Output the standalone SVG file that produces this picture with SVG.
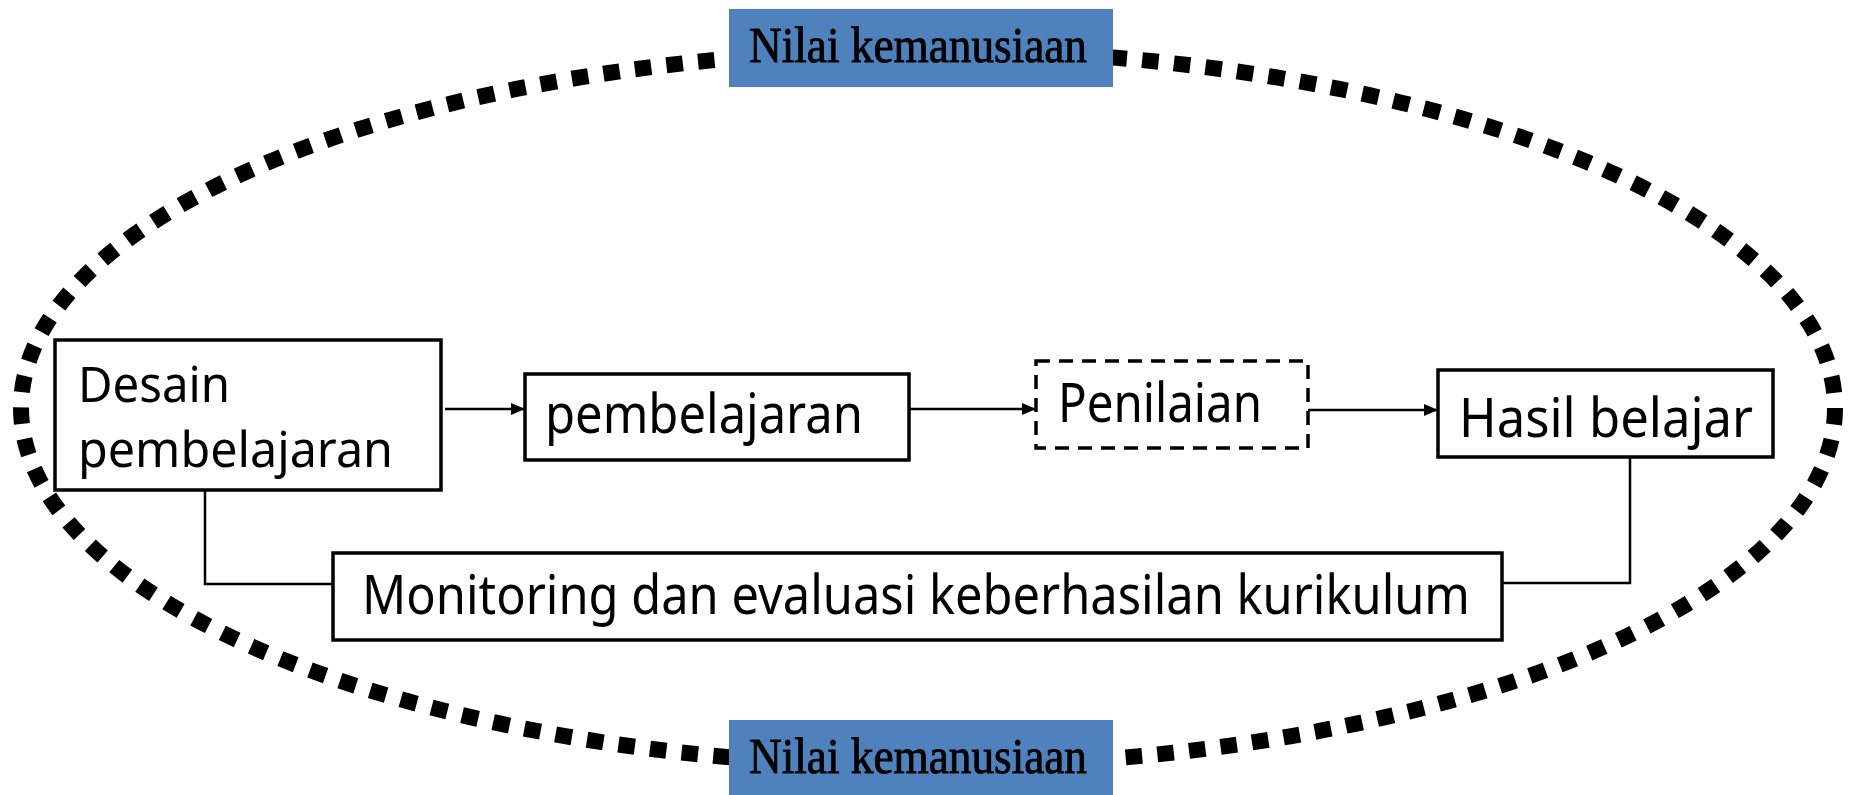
<svg xmlns="http://www.w3.org/2000/svg" width="1850" height="795" viewBox="0 0 1850 795">
<style>
.box{fill:#fff;stroke:#000;stroke-width:3.5}
.dbox{fill:#fff;stroke:#000;stroke-width:3.5;stroke-dasharray:14 9}
.t{font-family:"Noto Sans","DejaVu Sans",sans-serif;font-size:54px;fill:#000}
.t2{font-family:"Noto Sans","DejaVu Sans",sans-serif;font-size:50px;fill:#000}
.lab{fill:#4F81BD}
.lt{font-family:"Liberation Serif","Times New Roman",serif;font-size:51px;fill:#000;stroke:#000;stroke-width:0.9}
.c{fill:none;stroke:#000;stroke-width:2.5}
</style>
<defs>
<marker id="ah" viewBox="0 0 14 12" refX="14" refY="6" markerWidth="14" markerHeight="12" markerUnits="userSpaceOnUse" orient="auto">
<path d="M0,0 L14,6 L0,12 Z" fill="#000"/>
</marker>
</defs>
<g id="ellipse">
<ellipse cx="928" cy="408" rx="907" ry="358" fill="none" stroke="#000" stroke-width="16" pathLength="131" stroke-dasharray="0.52 0.48"/>
</g>
<g id="connectors">
<line class="c" x1="445" y1="409" x2="525" y2="409" marker-end="url(#ah)"/>
<line class="c" x1="908" y1="409" x2="1036" y2="409" marker-end="url(#ah)"/>
<line class="c" x1="1308" y1="410" x2="1438" y2="410" marker-end="url(#ah)"/>
<polyline class="c" points="205,490 205,584 333,584"/>
<polyline class="c" points="1630,457 1630,583 1502,583"/>
</g>
<g id="label-top">
<rect class="lab" x="729" y="9" width="384" height="78"/>
<text class="lt" x="749" y="62" textLength="338" lengthAdjust="spacingAndGlyphs">Nilai kemanusiaan</text>
</g>
<g id="label-bottom">
<rect class="lab" x="729" y="720" width="384" height="75"/>
<text class="lt" x="749" y="773" textLength="338" lengthAdjust="spacingAndGlyphs">Nilai kemanusiaan</text>
</g>
<g id="desain">
<rect class="box" x="55" y="340" width="386" height="150"/>
<text class="t2" x="78" y="402" textLength="152" lengthAdjust="spacingAndGlyphs">Desain</text>
<text class="t2" x="78" y="467" textLength="315" lengthAdjust="spacingAndGlyphs">pembelajaran</text>
</g>
<g id="pembelajaran">
<rect class="box" x="525" y="374" width="384" height="86"/>
<text class="t" x="545" y="433" textLength="318" lengthAdjust="spacingAndGlyphs">pembelajaran</text>
</g>
<g id="penilaian">
<rect class="dbox" x="1036" y="361" width="272" height="87"/>
<text class="t" x="1058" y="422" textLength="204" lengthAdjust="spacingAndGlyphs">Penilaian</text>
</g>
<g id="hasil">
<rect class="box" x="1438" y="370" width="335" height="87"/>
<text class="t" x="1459" y="437" textLength="294" lengthAdjust="spacingAndGlyphs">Hasil belajar</text>
</g>
<g id="monitoring">
<rect class="box" x="333" y="553" width="1169" height="87"/>
<text class="t" x="362" y="614" textLength="1108" lengthAdjust="spacingAndGlyphs">Monitoring dan evaluasi keberhasilan kurikulum</text>
</g>
</svg>
